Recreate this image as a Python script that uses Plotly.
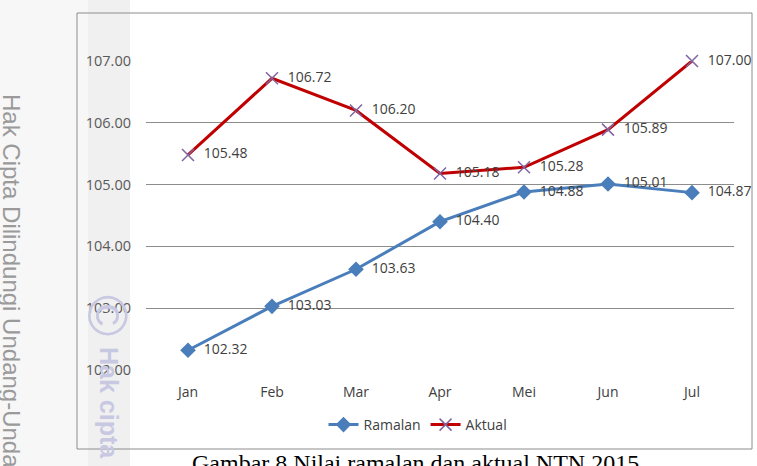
import plotly.graph_objects as go

months = ["Jan", "Feb", "Mar", "Apr", "Mei", "Jun", "Jul"]
ramalan = [102.32, 103.03, 103.63, 104.40, 104.88, 105.01, 104.87]
aktual = [105.48, 106.72, 106.20, 105.18, 105.28, 105.89, 107.00]
y_ticks = [102, 103, 104, 105, 106, 107]
caption = "Gambar 8 Nilai ramalan dan aktual NTN 2015"

W, H = 757, 466
L, R, T, B = 146, 734, 61, 370

def px(x):
    return (x - L) / (R - L)

def py(y):
    return (B - y) / (B - T)

PAD = "\u00a0\u00a0"
lab_font = dict(family="Open Sans, Liberation Sans", size=14, color="#404040")

fig = go.Figure()
fig.add_trace(go.Scatter(
    x=months, y=ramalan, name="Ramalan", mode="lines+markers+text",
    line=dict(color="#4a7ebb", width=3),
    marker=dict(symbol="diamond", size=12, color="#4a7ebb"),
    text=[PAD + f"{v:.2f}" for v in ramalan], textposition="middle right",
    textfont=lab_font, cliponaxis=False,
))
fig.add_trace(go.Scatter(
    x=months, y=aktual, name="Aktual", mode="lines+markers+text",
    line=dict(color="#c00000", width=3),
    marker=dict(symbol="x-thin", size=12, color="#8064a2", line=dict(width=1.5, color="#8064a2")),
    text=[PAD + f"{v:.2f}" for v in aktual], textposition="middle right",
    textfont=lab_font, cliponaxis=False,
))

shapes = [
    dict(type="rect", xref="paper", yref="paper", x0=px(0), x1=px(88), y0=py(466), y1=py(0),
         fillcolor="#f7f7f7", line=dict(width=0), layer="below"),
    dict(type="rect", xref="paper", yref="paper", x0=px(88), x1=px(130), y0=py(466), y1=py(0),
         fillcolor="#f0f0f0", line=dict(width=0), layer="below"),
    dict(type="rect", xref="paper", yref="paper", x0=px(77), x1=px(752), y0=py(449), y1=py(13),
         line=dict(color="#8c8c8c", width=1), fillcolor="rgba(0,0,0,0)", layer="below"),
]

annotations = [
    dict(text=caption, xref="paper", yref="paper", x=px(415), y=py(448), xanchor="center",
         yanchor="top", showarrow=False,
         font=dict(family="Liberation Serif", size=24, color="#000000")),
    dict(text="Hak Cipta Dilindungi Undang-Undang", xref="paper", yref="paper", x=px(12), y=py(92),
         xanchor="center", yanchor="top", textangle=90, showarrow=False,
         font=dict(family="Liberation Sans", size=24, color="#9a9a9a")),
    dict(text="©", xref="paper", yref="paper", x=px(108), y=py(315),
         xanchor="center", yanchor="middle", textangle=90, showarrow=False,
         font=dict(family="Liberation Sans", size=56, color="#c8c8e2")),
    dict(text="<b>Hak cipta</b>", xref="paper", yref="paper", x=px(109), y=py(345),
         xanchor="center", yanchor="top", textangle=90, showarrow=False,
         font=dict(family="Liberation Sans", size=25, color="#c8c8e2")),
]

fig.update_layout(
    width=W, height=H,
    margin=dict(l=L, r=W - R, t=T, b=H - B),
    paper_bgcolor="white", plot_bgcolor="rgba(0,0,0,0)",
    showlegend=True,
    legend=dict(orientation="h", x=px(418), y=py(425), xanchor="center", yanchor="middle",
                font=dict(family="Open Sans, Liberation Sans", size=14, color="#404040"),
                itemwidth=30, tracegroupgap=0),
    xaxis=dict(type="category", range=[-0.5, 6.5], showgrid=False, zeroline=False,
               showline=False, ticks="", ticklabelstandoff=12,
               tickfont=dict(family="Open Sans, Liberation Sans", size=14, color="#404040")),
    yaxis=dict(range=[102, 107], tickvals=y_ticks, ticktext=[f"{v:.2f}" for v in y_ticks],
               showgrid=True, gridcolor="#8c8c8c", gridwidth=1, zeroline=False,
               showline=False, ticks="", ticklabelstandoff=14,
               tickfont=dict(family="Open Sans, Liberation Sans", size=14.5, color="#595959")),
    shapes=shapes, annotations=annotations,
)

fig.write_html("out.html")
